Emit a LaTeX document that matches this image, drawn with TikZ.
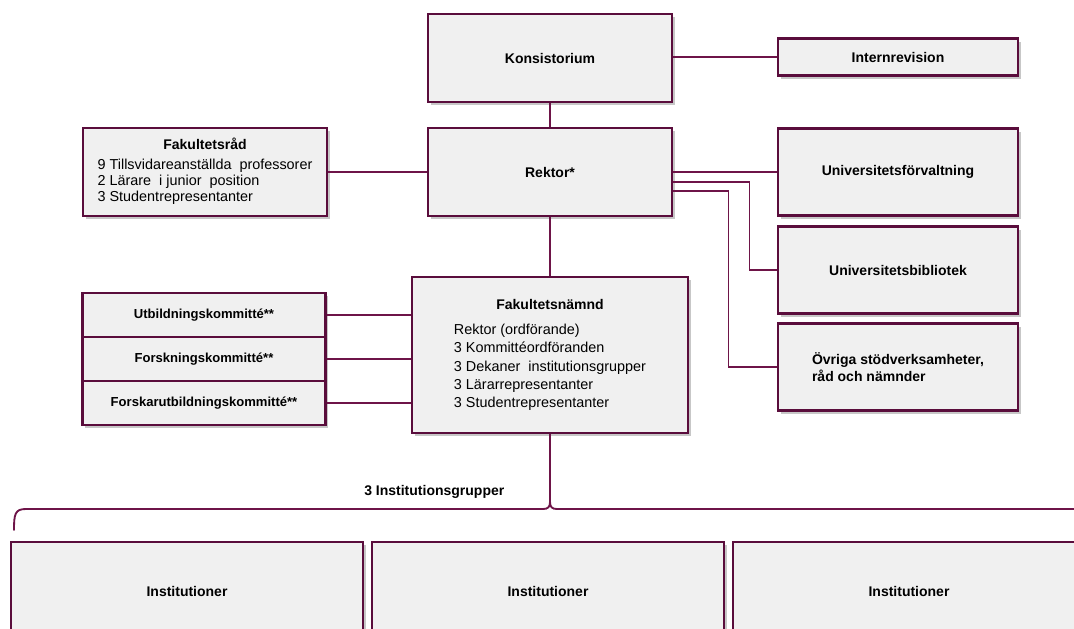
\documentclass[tikz,border=0pt]{standalone}
\usepackage{fontspec}
\setmainfont{Liberation Sans}
\usetikzlibrary{shadows,calc}

\definecolor{uuborder}{HTML}{5A0D3C}
\definecolor{uulink}{HTML}{6E1448}
\definecolor{uufill}{HTML}{F0F0F0}

\tikzset{
  unit/.style={draw=uuborder, line width=2.2pt, fill=uufill, inner sep=0pt,
    drop shadow={shadow xshift=2pt, shadow yshift=-2.5pt, fill=black!55, opacity=.4},
    font=\fontsize{10.5}{12.6}\selectfont\bfseries},
  wide/.style={unit, minimum width=183pt, minimum height=66pt},
  side/.style={unit, minimum width=180pt, minimum height=65pt},
  komm/.style={unit, minimum width=182pt, minimum height=33pt,
    font=\fontsize{9.8}{12}\selectfont\bfseries},
  inst/.style={unit, minimum width=264pt, minimum height=73.5pt},
  link/.style={draw=uulink, line width=1.3pt},
  brace/.style={draw=uulink, line width=1.4pt, line cap=round}
}

\begin{document}
\begin{tikzpicture}[x=0.75pt,y=-0.75pt]
\clip (0,0) rectangle (1074,628);

% top row
\node[wide] (kons) at (550,58) {Konsistorium};
\node[unit, minimum width=180pt, minimum height=28pt] (intern) at (898,57) {Internrevision};
\node[wide] (rektor) at (550,172) {Rektor*};
\node[wide, font=\fontsize{10.8}{12}\selectfont] (frad) at (205,172)
  {\begin{tabular}{@{}l@{}}
   \multicolumn{1}{@{}c@{}}{\bfseries\fontsize{10.5}{12}\selectfont Fakultetsråd}\\[2.5pt]
   9 Tillsvidareanställda\ \ professorer\\
   2 Lärare\ \ i junior\ \ position\\
   3 Studentrepresentanter
   \end{tabular}};

% right column
\node[side] (forv) at (898,172) {Universitetsförvaltning};
\node[side] (bibl) at (898,270) {Universitetsbibliotek};
\node[side, align=left] (ovr) at (898,367) {Övriga stödverksamheter,\\råd och nämnder};

% faculty board
\node[unit, minimum width=207pt, minimum height=117pt, font=\fontsize{10.8}{13.7}\selectfont] (fnamnd) at (550,355)
  {\begin{tabular}{@{}l@{}}
   \multicolumn{1}{@{}c@{}}{\bfseries\fontsize{10.5}{13.7}\selectfont Fakultetsnämnd}\\[5pt]
   Rektor (ordförande)\\
   3 Kommittéordföranden\\
   3 Dekaner\ \ institutionsgrupper\\
   3 Lärarrepresentanter\\
   3 Studentrepresentanter
   \end{tabular}};

% committees
\node[komm] (utb) at (204,315) {Utbildningskommitté**};
\node[komm] (fors) at (204,359) {Forskningskommitté**};
\node[komm] (fu) at (204,403) {Forskarutbildningskommitté**};

% departments
\node[inst] (inst1) at (187,591) {Institutioner};
\node[inst] (inst2) at (548,591) {Institutioner};
\node[inst] (inst3) at (909,591) {Institutioner};

% connectors
\draw[link] (intern.west) -- (intern.west -| kons.east);
\draw[link] (kons.south) -- (rektor.north);
\draw[link] (frad.east) -- (rektor.west);
\draw[link] (rektor.east) -- (forv.west);
\draw[link] ($(rektor.east)+(0,10)$) -| ($(bibl.west)+(-27,0)$) -- (bibl.west);
\draw[link] ($(rektor.east)+(0,19)$) -| ($(ovr.west)+(-48,0)$) -- (ovr.west);
\draw[link] (rektor.south) -- (fnamnd.north);
\foreach \k in {utb,fors,fu}
	\draw[link] (\k.east) -- (\k.east -| fnamnd.west);

% brace over the groups
\coordinate (tip) at (550,502);
\draw[brace] (14,530) .. controls (14,514) and (15,509) .. (26,509) -- (543,509)
  .. controls (548,509) and (550,507) .. (tip)
  .. controls (550,507) and (552,509) .. (557,509) -- (1080,509);
\draw[link] (fnamnd.south) -- (tip);
\node[anchor=east, font=\fontsize{10.5}{12}\selectfont\bfseries] (grupper) at (509,492) {3 Institutionsgrupper};
\end{tikzpicture}
\end{document}
